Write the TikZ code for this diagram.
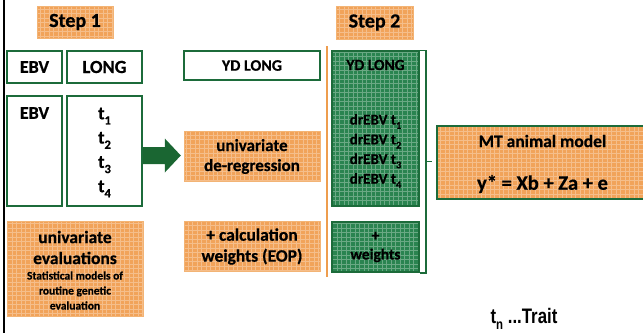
\documentclass[tikz,border=0pt]{standalone}
\usepackage{fontspec}
\usepackage{graphicx}
\setmainfont{Carlito}[BoldFeatures={FakeBold=0.6}]
\newfontfamily\narrowsans{Liberation Sans}[FakeStretch=0.8]
\usetikzlibrary{calc}
\definecolor{orfill}{HTML}{F1A35A}
\definecolor{orline}{HTML}{F3B475}
\definecolor{grfill}{HTML}{2A8450}
\definecolor{grline}{HTML}{1C6B3A}
\definecolor{arrgreen}{HTML}{1A6632}
\definecolor{vline}{HTML}{EE9D4E}
\newcommand\tsub[1]{\raisebox{-0.28em}{\scalebox{0.68}{#1}}}
\tikzset{
  texture/.style={path picture={\draw[white,opacity=0.3,line width=0.7pt]
      (path picture bounding box.south west) grid[step=4.5pt]
      (path picture bounding box.north east);}},
  box/.style={rectangle, inner sep=0pt, align=center, font=\bfseries},
  obox/.style={box, fill=orfill, draw=orline, line width=1pt, texture},
  wbox/.style={box, fill=white, draw=grline, line width=1.6pt},
  gbox/.style={box, fill=grfill, draw=grline, line width=1.5pt, texture},
  txt/.style={inner sep=0pt, align=center, font=\bfseries},
}
\begin{document}
\begin{tikzpicture}[x=1pt,y=-1pt]
\useasboundingbox (0,0) rectangle (643,333);

% frame line and column divider
\draw[black, line width=2pt] (4,0) -- (4,333);
\draw[vline, line width=2pt] (327,46) -- (327,277);

% step headers
\node[obox, minimum width=76pt, minimum height=32pt, font=\bfseries\fontsize{20}{24}\selectfont] (s1) at (75,22) {Step 1};
\node[obox, minimum width=77pt, minimum height=33pt, font=\bfseries\fontsize{20}{24}\selectfont] (s2) at (374.5,22.5) {Step 2};

% step 1 column
\node[wbox, minimum width=55pt, minimum height=32pt, font=\bfseries\fontsize{18}{22}\selectfont] (ebva) at (34.5,67) {EBV};
\node[wbox, minimum width=75pt, minimum height=32pt, font=\bfseries\fontsize{18.5}{22}\selectfont] (longa) at (104.5,67) {LONG};
\node[wbox, minimum width=55pt, minimum height=110pt] (ebvb) at (34.5,151) {};
\node[txt, font=\bfseries\fontsize{18}{22}\selectfont] (ebvt) at (34.5,113) {EBV};
\node[wbox, minimum width=75pt, minimum height=110pt] (tbox) at (104.5,151) {};
\node[txt, font=\bfseries\fontsize{18.5}{24.3}\selectfont] (tlist) at (104.5,152.5)
  {t\tsub{1}\\t\tsub{2}\\t\tsub{3}\\t\tsub{4}};
\node[obox, minimum width=136pt, minimum height=95pt] (unev) at (75,268.5) {};
\node[txt, font=\bfseries\fontsize{17.5}{21}\selectfont] (unevt) at (75,247.5) {univariate\\evaluations};
\node[txt, font=\bfseries\fontsize{11.5}{15}\selectfont] (unevs) at (75,290.5)
  {Statistical models of\\routine genetic\\evaluation};

% middle column
\node[wbox, minimum width=136pt, minimum height=29pt, font=\bfseries\fontsize{16}{20}\selectfont] (ydl) at (252,65.5) {YD LONG};
\node[obox, minimum width=136pt, minimum height=50pt, font=\bfseries\fontsize{17}{20}\selectfont] (dereg) at (252,156.5) {univariate\\de-regression};
\node[obox, minimum width=136pt, minimum height=50pt, font=\bfseries\fontsize{17.5}{21}\selectfont] (calc) at (252,246.5) {+ calculation\\weights (EOP)};

% arrow from the trait box to the de-regression step
\coordinate (arrstart) at ($(tbox.east)+(0,4.5)$);
\fill[arrgreen] (arrstart) ++(0,-8.5) -- ++(22,0) -- ++(0,-8.5) -- ++(16,17)
  -- ++(-16,17) -- ++(0,-8.5) -- ++(-22,0) -- cycle;

% step 2 column
\node[gbox, minimum width=87pt, minimum height=155pt] (gra) at (375.5,128.5) {};
\node[txt, font=\bfseries\fontsize{15.5}{19}\selectfont] (gydl) at (375.5,65) {YD LONG};
\node[txt, font=\bfseries\fontsize{15}{19.7}\selectfont] (drebv) at (375.5,151)
  {drEBV t\tsub{1}\\drEBV t\tsub{2}\\drEBV t\tsub{3}\\drEBV t\tsub{4}};
\node[gbox, minimum width=87pt, minimum height=50pt, font=\bfseries\fontsize{15.5}{19}\selectfont] (grb) at (375.5,247) {+\\weights};

% multi-trait model
\node[obox, draw=grline, line width=1.8pt, minimum width=214pt, minimum height=73pt] (mt) at (544,162.5) {};
\node[txt, font=\bfseries\fontsize{17.5}{21}\selectfont] (mtt) at (542.5,141) {MT animal model};
\node[txt, font=\bfseries\fontsize{20.5}{24}\selectfont] (mteq) at (542.5,184) {y* = Xb + Za + e};

% bracket joining the step 2 inputs to the model
\coordinate (brk) at ($(gra.north east)!0.5!(grb.south east)+(6,0)$);
\draw[grline, line width=1.5pt] (gra.north east) -- ++(6,0) |- (grb.south east);
\draw[grline, line width=1.5pt, shorten >=4pt] (brk) -- (brk -| mt.west);

% legend
\node[txt, font=\narrowsans\bfseries\fontsize{21}{24}\selectfont] (legend) at (524,319) {t\tsub{n} ...Trait};
\end{tikzpicture}
\end{document}
